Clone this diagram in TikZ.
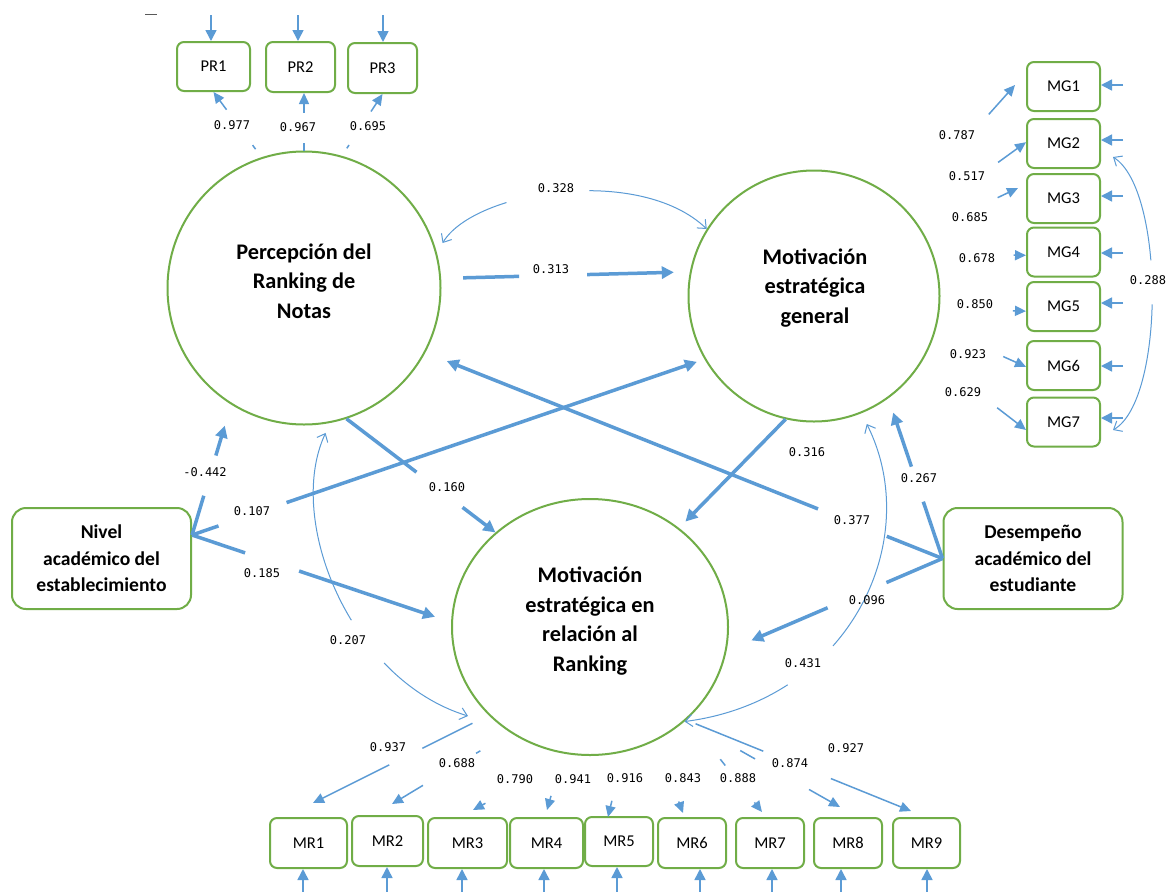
\documentclass[tikz,border=0pt]{standalone}
\usepackage{fontspec}
\newfontfamily\carl{Carlito}
\newfontfamily\monof{DejaVu Sans Mono}
\usetikzlibrary{arrows.meta,shapes.geometric}
\definecolor{blu}{HTML}{5B9BD5}
\definecolor{grn}{HTML}{70AD47}
\begin{document}
\begin{tikzpicture}[x=1pt,y=-1pt,
  circ/.style={circle,draw=grn,line width=2pt,inner sep=0pt},
  bigbox/.style={draw=grn,line width=2pt,rounded corners=14pt,minimum width=179pt,minimum height=101pt,inner sep=0pt,align=center,font=\carl\bfseries\fontsize{19.6}{26.5}\selectfont},
  ind/.style={draw=grn,line width=2pt,rounded corners=7pt,minimum height=50pt,inner sep=0pt,font=\carl\fontsize{16.5}{18}\selectfont},
  ctext/.style={align=center,font=\carl\bfseries\fontsize{22.3}{29.7}\selectfont},
  coef/.style={inner sep=0pt,font=\monof\fontsize{12}{14}\selectfont},
  err/.style={blu,line width=1.6pt,-{Triangle[length=11pt,width=11pt]}},
  load/.style={blu,line width=1.5pt,-{Triangle[length=11pt,width=10pt]}},
  strc/.style={blu,line width=3.5pt,-{Triangle[length=12pt,width=12pt]}},
  cov/.style={blu,line width=1pt,{Straight Barb[length=7pt,width=12pt]}-{Straight Barb[length=7pt,width=12pt]}},
  brk/.style 2 args={dash pattern=on #1pt off #2pt on 3000pt}]
\fill[white] (0,0) rectangle (1168,892);
\useasboundingbox (0,0) rectangle (1168,892);
\draw[black!65,line width=0.8pt] (145,14) -- (157,14);

% latent variables
\node[circ,minimum size=273pt] (PR) at (304,288) {};
\node[circ,minimum size=251pt] (MG) at (814,296) {};
\node[ellipse,draw=grn,line width=2pt,inner sep=0pt,minimum width=276pt,minimum height=256pt] (MR) at (590,627) {};
\node[ctext] (PRt) at (304,281) {Percepción del\\Ranking de\\Notas};
\node[ctext] (MGt) at (815,288) {Motivación\\estratégica\\general};
\node[ctext] (MRt) at (590,621) {Motivación\\estratégica en\\relación al\\Ranking};

% observed exogenous
\node[bigbox] (NIV) at (101.5,558.5) {Nivel\\académico del\\establecimiento};
\node[bigbox] (DES) at (1033,558.5) {Desempeño\\académico del\\estudiante};

% indicators
\node[ind,minimum width=73pt,minimum height=49pt] (PR1) at (213.5,66.5) {PR1};
\node[ind,minimum width=69pt] (PR2) at (300.5,67) {PR2};
\node[ind,minimum width=69pt] (PR3) at (382.5,68) {PR3};
\foreach \n/\y in {1/86.5,2/143.5,3/198.5,4/252,5/306.5,6/365.5,7/422}
  \node[ind,minimum width=73pt,minimum height=49pt] (MG\n) at (1063.5,\y) {MG\n};
\node[ind,minimum width=77pt] (MR1) at (308.5,843) {MR1};
\node[ind,minimum width=71pt] (MR2) at (387.5,841) {MR2};
\node[ind,minimum width=79pt] (MR3) at (467.5,843) {MR3};
\node[ind,minimum width=73pt] (MR4) at (546.5,843) {MR4};
\node[ind,minimum width=68pt,minimum height=49pt] (MR5) at (619,841.5) {MR5};
\node[ind,minimum width=68pt] (MR6) at (692,843) {MR6};
\node[ind,minimum width=68pt] (MR7) at (770,843) {MR7};
\node[ind,minimum width=68pt] (MR8) at (848,843) {MR8};
\node[ind,minimum width=67pt] (MR9) at (926.5,843) {MR9};

% error arrows
\foreach \n/\x in {1/211,2/298,3/383}{
  \coordinate (ePR\n) at (\x,15);
  \draw[err] (ePR\n) -- (ePR\n |- PR\n.north);}
\foreach \n/\y in {1/85,2/140,3/196,4/253,5/303,6/366,7/418}{
  \coordinate (eMG\n) at (1123,\y);
  \draw[err] (eMG\n) -- (eMG\n -| MG\n.east);}
\foreach \n/\x in {1/303,2/387,3/462,4/544,5/617,6/700,7/772,8/841,9/927}{
  \coordinate (eMR\n) at (\x,892);
  \draw[err] (eMR\n) -- (eMR\n |- MR\n.south);}

% loadings PR
\coordinate (tPR2) at (PR2.south -| PR.90);
\draw[load,shorten <=10pt,brk={5}{44}] (PR.108) -- (PR1.south);
\draw[load,brk={8}{30}] (PR.90) -- (tPR2);
\draw[load,shorten <=9pt,brk={4}{40}] (PR.74) -- (PR3.south);

% loadings MG
\coordinate (tMG1) at (1015,85);
\coordinate (tMG3) at (1018,188);
\draw[load,shorten <=125.7pt] (MG.44) -- (tMG1);
\draw[load,shorten <=101pt] (MG.36) -- (MG2.178);
\draw[load,shorten <=82pt] (MG.30) -- (tMG3);
\draw[load,shorten <=80pt] (MG.19) -- (MG4.185);
\draw[load,shorten <=73pt] (MG.-6) -- (MG5.187);
\draw[load,shorten <=73pt] (MG.-14) -- (MG6.182);
\draw[load,shorten <=89pt] (MG.-27) -- (MG7.192);

% loadings MR
\coordinate (tMR1) at (313,803);
\coordinate (tMR2) at (392,804);
\coordinate (tMR3) at (473,810);
\coordinate (tMR4) at (547,810);
\coordinate (tMR5) at (608,817);
\coordinate (tMR6) at (683,813);
\coordinate (tMR7) at (762,812);
\coordinate (tMR8) at (840,807);
\coordinate (tMR9) at (911,811);
\draw[load,shorten <=18pt,brk={56}{37}] (MR.221) -- (tMR1);
\draw[load,shorten <=35pt,brk={5}{62}] (MR.233) -- (tMR2);
\draw[load,shorten <=101pt] (MR.263) -- (tMR3);
\draw[load,shorten <=44pt] (MR.258) -- (tMR4);
\draw[load,shorten <=50pt] (MR.285) -- (tMR5);
\draw[load,shorten <=65pt] (MR.300) -- (tMR6);
\draw[load,shorten <=52pt,brk={8}{47}] (MR.317) -- (tMR7);
\draw[load,shorten <=62pt,brk={17}{62}] (MR.316) -- (tMR8);
\draw[load,shorten <=10pt,brk={73}{73}] (MR.316) -- (tMR9);

% structural paths
\coordinate (nivo) at ([yshift=23.5pt]NIV.east);
\draw[strc,shorten <=22pt,shorten >=16pt,brk={56}{68}] (PR.4) -- (MG.169);
\draw[strc,brk={88}{58}] (PR.-72) -- (MR.135);
\draw[strc,shorten >=9pt] (MG.257) -- (MR.48);
\draw[strc,shorten >=22pt,brk={41}{42}] (nivo) -- (PR.238);
\draw[strc,shorten >=8pt,brk={28}{72}] (nivo) -- (MG.210);
\draw[strc,shorten >=17pt,brk={56}{57}] (nivo) -- (MR.178);
\draw[strc,shorten >=23pt,brk={60}{74}] (DES.west) -- (PR.-28);
\draw[strc,shorten >=15pt,brk={60}{37}] (DES.west) -- (MG.-54);
\draw[strc,shorten >=27pt,brk={61}{64}] (DES.west) -- (MR.-10);

% covariances
\coordinate (k2b) at (468,716);
\coordinate (k4a) at ([shift={(12pt,-13.5pt)}]MG2.east);
\coordinate (k4b) at ([shift={(12pt,-8pt)}]MG7.east);
\draw[cov,shorten <=11pt,brk={76}{84}] (PR.15) .. controls (475,190) and (640,165) .. (MG.148);
\draw[cov,shorten <=11pt,brk={195}{54}] (PR.-79) .. controls (285,520) and (350,680) .. (k2b);
\draw[cov,shorten <=12pt,brk={237}{60}] (MG.-68) .. controls (925,540) and (850,700) .. (MR.315);
\draw[cov,brk={112}{44}] (k4a) .. controls (1165,190) and (1165,400) .. (k4b);

% coefficients
\node[coef] (c977) at (232,125) {0.977};
\node[coef] (c967) at (298,127) {0.967};
\node[coef] (c695) at (368,126) {0.695};
\node[coef] (c787) at (957,135) {0.787};
\node[coef] (c517) at (967,176) {0.517};
\node[coef] (c685) at (970,217) {0.685};
\node[coef] (c678) at (977,258) {0.678};
\node[coef] (c850) at (975,304) {0.850};
\node[coef] (c923) at (968,354) {0.923};
\node[coef] (c629) at (963,392) {0.629};
\node[coef] (c288) at (1148,280) {0.288};
\node[coef] (c937) at (388,747) {0.937};
\node[coef] (c688) at (457,763) {0.688};
\node[coef] (c790) at (515,779) {0.790};
\node[coef] (c941) at (573,779) {0.941};
\node[coef] (c916) at (625,778) {0.916};
\node[coef] (c843) at (683,778) {0.843};
\node[coef] (c888) at (738,778) {0.888};
\node[coef] (c874) at (790,763) {0.874};
\node[coef] (c927) at (846,748) {0.927};
\node[coef] (c313) at (551,269) {0.313};
\node[coef] (c160) at (447,487) {0.160};
\node[coef] (c316) at (807,452) {0.316};
\node[coef] (c442) at (205,472) {-0.442};
\node[coef] (c107) at (252,511) {0.107};
\node[coef] (c185) at (262,573) {0.185};
\node[coef] (c377) at (852,520) {0.377};
\node[coef] (c267) at (919,478) {0.267};
\node[coef] (c096) at (867,600) {0.096};
\node[coef] (c328) at (556,188) {0.328};
\node[coef] (c207) at (348,640) {0.207};
\node[coef] (c431) at (803,663) {0.431};
\end{tikzpicture}
\end{document}
